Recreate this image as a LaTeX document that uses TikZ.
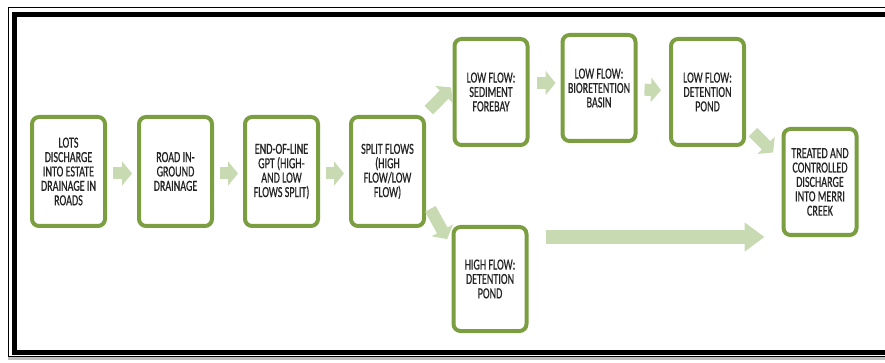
\documentclass[tikz,border=0pt]{standalone}
\usepackage{fontspec}
\setmainfont[FakeStretch=0.66,FakeBold=0.6]{Carlito}
\usepackage{tikz}
\usetikzlibrary{arrows.meta, positioning}
\definecolor{boxgreen}  {RGB}{122, 158,  64}
\definecolor{flowgreen} {RGB}{200, 218, 178}
\definecolor{textdark}  {RGB}{ 35,  35,  35}

\begin{document}
\begin{tikzpicture}[x=1pt,y=-1pt,
	stage/.style={draw=boxgreen, line width=4pt, rounded corners=7pt, fill=white,
		minimum width=73pt, minimum height=109pt, inner sep=2pt, align=center,
		text=textdark, font=\fontsize{15.3}{14.4}\selectfont},
	flow/.style={flowgreen, line width=12pt, -{Triangle[length=10pt,width=24pt]}}]
	\useasboundingbox (0,0) rectangle (885,363);
	\clip (0,0) rectangle (885,363);
	\draw[black!25,line width=3pt] (8,358) -- (885,358);
	\draw[line width=1pt] (8,7.5) rectangle (895,356.5);
	\draw[line width=5pt] (14,14.5) rectangle (890,352.5);
	\node[stage] (lots) at (68.5,171.5) {LOTS\\DISCHARGE\\INTO ESTATE\\DRAINAGE IN\\ROADS};
	\node[stage, right=30pt of lots] (road) {ROAD IN-\\GROUND\\DRAINAGE};
	\node[stage, right=29pt of road] (gpt) {END-OF-LINE\\GPT (HIGH-\\AND LOW\\FLOWS SPLIT)};
	\node[stage, right=29pt of gpt] (split) {SPLIT FLOWS\\(HIGH\\FLOW/LOW\\FLOW)};
	\node[stage, minimum height=106pt] (sediment) at (491,92) {LOW FLOW:\\SEDIMENT\\FOREBAY};
	\node[stage, minimum height=106pt] (bio) at (599,88) {LOW FLOW:\\BIORETENTION\\BASIN};
	\node[stage, minimum height=106pt] (detlow) at (707.5,92) {LOW FLOW:\\DETENTION\\POND};
	\node[stage, minimum height=106pt] (treated) at (820,182) {TREATED AND\\CONTROLLED\\DISCHARGE\\INTO MERRI\\CREEK};
	\node[stage, minimum height=104pt] (dethigh) at (490,279) {HIGH FLOW:\\DETENTION\\POND};
	\foreach \a/\b in {lots/road, road/gpt, gpt/split}{\draw[flow, shorten <=6pt, shorten >=5pt] ([yshift=-2pt]\a.east) -- ([yshift=-2pt]\b.west);}
	\draw[flow, shorten <=4pt, shorten >=2pt] ([yshift=2pt]split.north east) -- ([yshift=6pt]sediment.west);
	\draw[flow, shorten <=9pt, shorten >=9pt] ([yshift=27pt]split.south east) -- ([yshift=-22pt]dethigh.north west);
	\draw[flow, shorten <=7pt, shorten >=5pt] ([yshift=9pt]sediment.east) -- ([yshift=5pt]bio.west);
	\draw[flow, shorten <=7pt, shorten >=8pt] (bio) -- (detlow);
	\draw[flow, shorten <=10pt, shorten >=12pt] ([yshift=22pt]detlow.south east) -- ([yshift=-34pt]treated.north west);
	\coordinate (bypass) at ([yshift=42pt]dethigh.east);
	\draw[flow, line width=13pt, -{Triangle[length=20pt,width=28pt]}, shorten <=17pt, shorten >=17pt] (bypass) -- (bypass -| treated.west);
\end{tikzpicture}
\end{document}
